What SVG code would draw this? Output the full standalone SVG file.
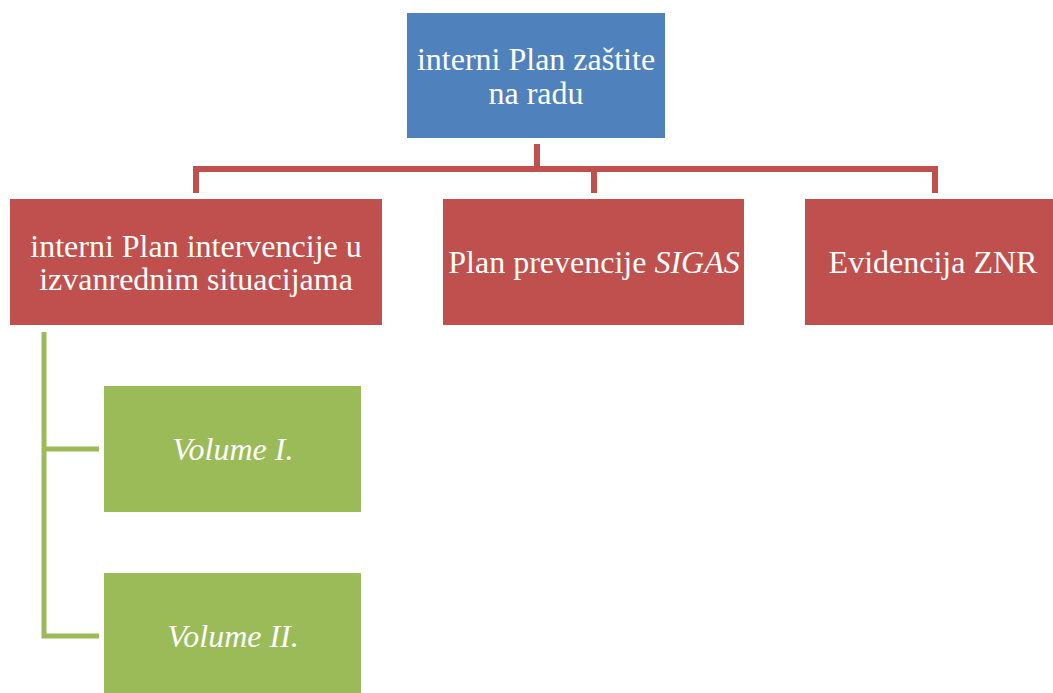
<svg xmlns="http://www.w3.org/2000/svg" width="1053" height="693" viewBox="0 0 1053 693">
<style>
.red{fill:#C0504D}
.blue{fill:#4F81BD}
.green{fill:#9BBB59}
.cr{fill:none;stroke:#C0504D;stroke-width:6}
.cg{fill:none;stroke:#9BBB59;stroke-width:5}
</style>
<rect width="1053" height="693" fill="#fff"/>
<g id="connectors">
<path class="cr" d="M537 144V169M196 193V169H935V193M594 169V193"/>
<path class="cg" d="M44 332V636H99M44 449H99"/>
</g>
<g id="n-top">
<rect class="blue" x="407" y="13" width="258" height="125"/>
<text x="536" y="70" font-family="Liberation Serif" font-size="32" fill="#fff" text-anchor="middle">interni Plan zaštite</text>
<text x="536" y="104" font-family="Liberation Serif" font-size="32" fill="#fff" text-anchor="middle">na radu</text>
</g>
<g id="n-plan-int">
<rect class="red" x="10" y="199" width="372" height="126"/>
<text x="196" y="257" font-family="Liberation Serif" font-size="32" fill="#fff" text-anchor="middle">interni Plan intervencije u</text>
<text x="196" y="290" font-family="Liberation Serif" font-size="32" fill="#fff" text-anchor="middle">izvanrednim situacijama</text>
</g>
<g id="n-sigas">
<rect class="red" x="443" y="199" width="301" height="126"/>
<text x="594" y="273" font-family="Liberation Serif" font-size="32" fill="#fff" text-anchor="middle">Plan prevencije <tspan font-style="italic">SIGAS</tspan></text>
</g>
<g id="n-znr">
<rect class="red" x="805" y="199" width="260" height="126"/>
<text x="933" y="273" font-family="Liberation Serif" font-size="32" fill="#fff" text-anchor="middle">Evidencija ZNR</text>
</g>
<g id="n-vol1">
<rect class="green" x="104" y="386" width="257" height="126"/>
<text x="233" y="460" font-family="Liberation Serif" font-size="32" fill="#fff" text-anchor="middle" font-style="italic">Volume I.</text>
</g>
<g id="n-vol2">
<rect class="green" x="104" y="573" width="257" height="126"/>
<text x="233" y="647" font-family="Liberation Serif" font-size="32" fill="#fff" text-anchor="middle" font-style="italic">Volume II.</text>
</g>
</svg>
